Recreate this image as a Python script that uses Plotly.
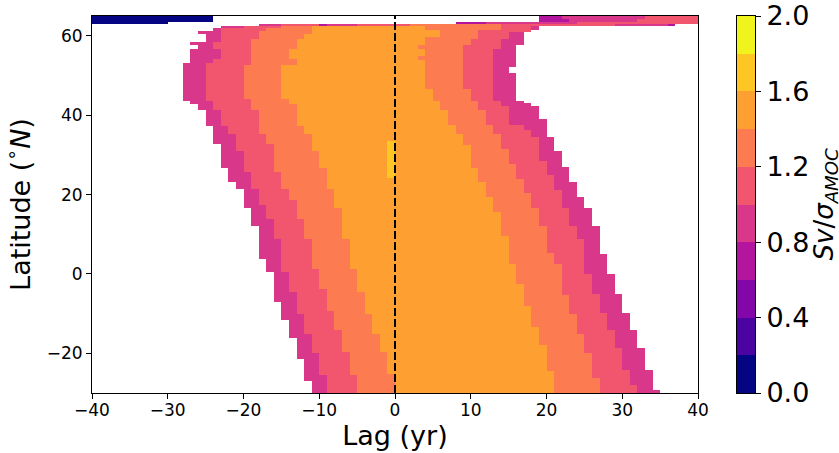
import numpy as np
import plotly.graph_objects as go

# ---- data -------------------------------------------------------------
# one-year lag cells
lag_edges = list(range(-40, 41))

# Band outlines as latitude staircases: (upper latitude of the step, lag edge in yr)
magenta_left = [(-26.9, -11), (-21.5, -12), (-16.1, -13), (-11.6, -14), (-7.05, -15),
                (0.5, -16), (3.7, -17), (12.1, -18), (16.6, -19), (21.4, -20),
                (23.2, -21), (26.7, -22), (32.7, -23), (37.4, -24), (41.3, -25),
                (42.8, -26), (43.7, -27), (53.1, -28), (56.6, -27), (57.8, -26),
                (58.4, -27), (60.5, -25), (61.3, -26), (61.9, -24), (62.4, -23)]
pink_left = [(-25.4, -9), (-20.0, -10), (-15.1, -11), (-10.1, -12), (-4.6, -13),
             (0.5, -14), (8.8, -15), (13.85, -16), (17.4, -17), (21.4, -18),
             (25.7, -19), (31.0, -20), (35.3, -21), (37.4, -22), (41.3, -23),
             (43.7, -24), (53.1, -25), (54.2, -24), (56.6, -23), (58.4, -24),
             (61.9, -23), (62.4, -20)]
coral_left = [(-25.4, -5), (-19.6, -6), (-14.1, -7), (-9.3, -8), (-3.78, -9),
              (1.26, -10), (8.8, -11), (13.85, -12), (18.6, -13), (21.4, -14),
              (25.7, -15), (32.7, -16), (35.3, -17), (41.3, -18), (44.0, -19),
              (52.6, -20), (59.1, -19), (61.3, -18), (61.9, -17), (62.4, -15)]
orange_left = [(-25.2, 0), (-19.6, -1), (-15.1, -2), (-10.1, -3), (-4.6, -4),
               (1.26, -5), (8.8, -6), (16.6, -7), (21.4, -8), (26.7, -9),
               (31.0, -10), (35.3, -11), (37.4, -12), (42.8, -13), (44.0, -14),
               (52.6, -15), (54.2, -13), (56.6, -14), (59.1, -13), (60.5, -12),
               (62.4, -11)]
orange_right = [(-24.4, 21), (-17.9, 20), (-13.35, 19), (-8.06, 18), (-2.52, 17),
                (2.5, 16), (9.6, 15), (15.6, 14), (19.4, 13), (23.2, 12),
                (26.7, 11), (32.5, 10), (35.3, 9), (37.5, 8), (41.3, 7),
                (43.7, 6), (46.7, 5), (53.9, 4), (54.9, 3), (56.6, 4),
                (57.7, 3), (59.8, 4), (61.5, 6), (62.4, 4)]
coral_right = [(-26.2, 27), (-19.9, 26), (-15.1, 25), (-10.1, 24), (-5.3, 23),
               (2.5, 22), (5.3, 21), (12.1, 20), (16.6, 19), (20.4, 18),
               (23.9, 17), (27.7, 16), (31.5, 15), (35.3, 14), (37.5, 13),
               (41.3, 12), (43.7, 11), (46.7, 10), (57.7, 9), (59.1, 10),
               (61.5, 11), (62.4, 14)]
pink_right = [(-28.0, 32), (-24.2, 31), (-18.6, 30), (-14.1, 29), (-9.8, 28),
              (-5.04, 27), (0.0, 26), (8.8, 25), (12.1, 24), (16.6, 23),
              (21.2, 22), (24.9, 21), (28.5, 20), (34.5, 19), (36.3, 18),
              (37.5, 17), (42.3, 15), (43.7, 14), (56.8, 13), (59.1, 14),
              (61.0, 15), (62.4, 18)]
magenta_right = [(-29.2, 35), (-24.2, 34), (-18.6, 33), (-14.1, 32), (-9.8, 31),
                 (-5.04, 30), (0.0, 29), (5.0, 28), (12.1, 27), (16.6, 26),
                 (19.4, 25), (23.2, 24), (26.9, 23), (31.0, 22), (34.5, 21),
                 (39.0, 20), (42.3, 19), (43.1, 18), (43.7, 17), (50.7, 16),
                 (52.2, 15), (57.7, 16), (61.5, 17), (62.4, 19)]

# value given to each nested band (outer -> inner)
band_values = [0.9, 1.1, 1.3, 1.5]

# isolated maximum near zero lag
peak_lags = (-1, 0)
peak_lats = (24.2, 33.5)
peak_value = 1.7

# ragged rows along the northern boundary: (lat_lo, lat_hi, [(lag_lo, lag_hi, value)])
edge_rows = [
    (62.4, 63.0, [(-18, -15, 0.9), (-15, -10, 1.1), (-10, -9, 0.7), (-9, -5, 0.9),
                  (-5, 2, 1.1), (2, 14, 1.3), (14, 29, 1.1), (29, 36, 0.9), (36, 37, 0.7)]),
    (63.0, 63.5, [(-40, -30, 0.1), (8, 12, 0.7), (12, 24, 0.9), (24, 40, 1.1)]),
    (63.5, 64.2, [(-40, -24, 0.1), (19, 23, 0.7), (23, 32, 0.9), (32, 40, 1.1)]),
    (64.2, 65.0, [(-40, -24, 0.1), (19, 22, 0.7), (22, 33, 0.9), (33, 40, 1.1)]),
]

lat_min = -30.0
lat_max = 65.0
body_top = 62.4

# colour levels and the plasma-style colours of the ten filled bands
levels = [0.0, 0.2, 0.4, 0.6, 0.8, 1.0, 1.2, 1.4, 1.6, 1.8, 2.0]
band_colors = ['#050483', '#4b03a1', '#8306a8', '#b3159f', '#d9388a',
               '#f2566f', '#fc7b50', '#fe9f32', '#fdc623', '#eff51c']
cbar_ticks = [0.0, 0.4, 0.8, 1.2, 1.6, 2.0]

# ---- grid assembly ----------------------------------------------------
lefts = [magenta_left, pink_left, coral_left, orange_left]
rights = [magenta_right, pink_right, coral_right, orange_right]


def step_at(steps, lat):
    for top, lag in steps:
        if lat < top:
            return lag
    return steps[-1][1]


lat_edges = {lat_min, body_top, peak_lats[0], peak_lats[1]}
for steps in lefts + rights:
    for top, _ in steps:
        if top < body_top:
            lat_edges.add(top)
for lo, hi, _ in edge_rows:
    lat_edges.update([lo, hi])
lat_edges = sorted(lat_edges)

ncol = len(lag_edges) - 1
z = np.full((len(lat_edges) - 1, ncol), np.nan)
for i in range(len(lat_edges) - 1):
    lo, hi = lat_edges[i], lat_edges[i + 1]
    mid = 0.5 * (lo + hi)
    if mid < body_top:
        for b, val in enumerate(band_values):
            left = step_at(lefts[b], mid)
            right = step_at(rights[b], mid)
            for j in range(ncol):
                k = lag_edges[j]
                if left <= k and k + 1 <= right:
                    z[i, j] = val
        if peak_lats[0] <= mid <= peak_lats[1]:
            for j in range(ncol):
                k = lag_edges[j]
                if peak_lags[0] <= k and k + 1 <= peak_lags[1]:
                    z[i, j] = peak_value
    else:
        for rlo, rhi, segs in edge_rows:
            if rlo <= mid < rhi:
                for a, b, val in segs:
                    for j in range(ncol):
                        k = lag_edges[j]
                        if a <= k and k + 1 <= b:
                            z[i, j] = val

zmin, zmax = levels[0], levels[-1]
colorscale = []
for n, c in enumerate(band_colors):
    colorscale.append([(levels[n] - zmin) / (zmax - zmin), c])
    colorscale.append([(levels[n + 1] - zmin) / (zmax - zmin), c])

# colour key: one cell per level band
key_z = [[0.5 * (levels[n] + levels[n + 1])] for n in range(len(levels) - 1)]

# ---- figure -----------------------------------------------------------
FONT = "DejaVu Sans"
W, H = 839, 453
ML, MR, MT, MB = 92, 84, 16, 60
plot_w = W - ML - MR
main_right = 698          # right edge of the main panel (px)
key_left, key_right = 737, 755

fig = go.Figure()
fig.add_trace(go.Heatmap(
    x=lag_edges, y=lat_edges, z=z,
    zmin=zmin, zmax=zmax, colorscale=colorscale, zsmooth=False,
    showscale=False, hoverongaps=False,
    xaxis="x", yaxis="y",
))

# zero-lag reference line
fig.add_trace(go.Scatter(
    x=[0, 0], y=[lat_min, lat_max], mode="lines",
    line=dict(color="black", width=2, dash="8px,3px"),
    showlegend=False, hoverinfo="skip",
    xaxis="x", yaxis="y",
))

# colour key drawn as its own small panel
fig.add_trace(go.Heatmap(
    x=[0, 1], y=levels, z=key_z,
    zmin=zmin, zmax=zmax, colorscale=colorscale, zsmooth=False,
    showscale=False, hoverinfo="skip",
    xaxis="x2", yaxis="y2",
))

axis_common = dict(
    ticks="outside", ticklen=5, tickwidth=1, tickcolor="black",
    showline=True, linecolor="black", linewidth=1, mirror=True,
    showgrid=False, zeroline=False, automargin=False,
)

fig.update_layout(
    width=W, height=H,
    margin=dict(l=ML, r=MR, t=MT, b=MB, autoexpand=False),
    plot_bgcolor="white", paper_bgcolor="white",
    font=dict(family=FONT, color="black"),
    showlegend=False,
    xaxis=dict(
        domain=[0, (main_right - ML) / plot_w],
        range=[-40, 40], tickmode="array", tickvals=list(range(-40, 41, 10)),
        tickfont=dict(family=FONT, size=17, color="black"),
        ticklabelstandoff=-3,
        title=dict(text="Lag (yr)", font=dict(family=FONT, size=27, color="black"),
                   standoff=6),
        **axis_common,
    ),
    yaxis=dict(
        range=[lat_min, lat_max], tickmode="array", tickvals=[-20, 0, 20, 40, 60],
        tickfont=dict(family=FONT, size=17, color="black"),
        title=dict(text="Latitude (<sup>∘</sup><i>N</i>)",
                   font=dict(family=FONT, size=27, color="black"), standoff=8),
        **axis_common,
    ),
    xaxis2=dict(
        domain=[(key_left - ML) / plot_w, (key_right - ML) / plot_w],
        range=[0, 1], anchor="y2", showticklabels=False, ticks="",
        showline=True, linecolor="black", linewidth=1, mirror=True,
        showgrid=False, zeroline=False, automargin=False,
    ),
    yaxis2=dict(
        domain=[0, 1], anchor="x2", side="right", range=[zmin, zmax],
        tickmode="array", tickvals=cbar_ticks,
        ticktext=[f"{t:.1f}" for t in cbar_ticks],
        tickfont=dict(family=FONT, size=27, color="black"),
        **axis_common,
    ),
    annotations=[dict(
        text="<i>Sv</i>/<i>σ</i><sub><i>AMOC</i></sub>",
        xref="paper", yref="paper",
        x=(825 - ML) / plot_w, y=0.5, xanchor="center", yanchor="middle",
        textangle=-90, showarrow=False,
        font=dict(family=FONT, size=26, color="black"),
    )],
)

fig.write_html("out.html")
